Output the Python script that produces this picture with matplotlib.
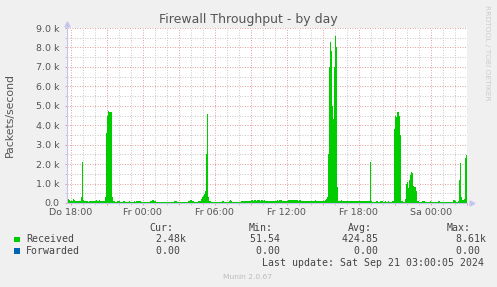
import numpy as np
import matplotlib.pyplot as plt
from matplotlib.patches import Rectangle
from matplotlib.ticker import MultipleLocator, FuncFormatter, FixedLocator

#%% data: 5-minute samples in k packets/s, last one = Sat 03:00
received_k = [
    0.19, 0.2, 0.17, 0.12, 0.1, 0.12, 0.2, 0.15, 0.1, 0.09, 0.08, 0.08, 0.09, 0.1, 0.3, 2.1, 0.15, 0.1, 0.09, 0.08,
    0.08, 0.07, 0.08, 0.08, 0.09, 0.08, 0.08, 0.1, 0.12, 0.13, 0.11, 0.12, 0.17, 0.12, 0.1, 0.1, 0.11, 0.12, 0.3, 3.6,
    4.5, 4.75, 4.7, 4.7, 4.7, 0.3, 0.1, 0.08, 0.07, 0.07, 0.08, 0.1, 0.08, 0.07, 0.07, 0.07, 0.08, 0.08, 0.07, 0.07,
    0.07, 0.07, 0.08, 0.07, 0.07, 0.07, 0.07, 0.08, 0.07, 0.08, 0.09, 0.12, 0.1, 0.08, 0.07, 0.07, 0.07, 0.07, 0.07, 0.07,
    0.07, 0.07, 0.07, 0.08, 0.1, 0.14, 0.15, 0.12, 0.08, 0.07, 0.06, 0.06, 0.07, 0.07, 0.06, 0.06, 0.07, 0.07, 0.06, 0.06,
    0.06, 0.06, 0.06, 0.07, 0.06, 0.06, 0.07, 0.08, 0.12, 0.08, 0.06, 0.06, 0.06, 0.06, 0.06, 0.06, 0.07, 0.06, 0.06, 0.06,
    0.07, 0.08, 0.12, 0.15, 0.13, 0.1, 0.08, 0.07, 0.07, 0.07, 0.07, 0.08, 0.1, 0.12, 0.2, 0.3, 0.35, 0.45, 0.6, 2.5,
    4.6, 0.3, 0.1, 0.08, 0.07, 0.07, 0.06, 0.06, 0.06, 0.06, 0.07, 0.06, 0.06, 0.07, 0.07, 0.1, 0.08, 0.06, 0.06, 0.06,
    0.06, 0.07, 0.1, 0.15, 0.1, 0.07, 0.06, 0.06, 0.06, 0.07, 0.07, 0.06, 0.06, 0.07, 0.08, 0.1, 0.12, 0.12, 0.11, 0.12,
    0.1, 0.09, 0.1, 0.12, 0.13, 0.15, 0.12, 0.14, 0.16, 0.12, 0.15, 0.17, 0.13, 0.12, 0.15, 0.14, 0.12, 0.13, 0.11, 0.12,
    0.12, 0.1, 0.1, 0.09, 0.1, 0.1, 0.11, 0.12, 0.1, 0.12, 0.13, 0.12, 0.13, 0.15, 0.14, 0.12, 0.11, 0.1, 0.1, 0.11,
    0.12, 0.15, 0.14, 0.16, 0.15, 0.14, 0.15, 0.13, 0.16, 0.15, 0.14, 0.12, 0.15, 0.13, 0.12, 0.11, 0.1, 0.1, 0.1, 0.11,
    0.1, 0.1, 0.1, 0.11, 0.1, 0.1, 0.1, 0.12, 0.14, 0.12, 0.1, 0.09, 0.1, 0.1, 0.1, 0.1, 0.12, 0.12, 0.15, 0.2,
    0.3, 2.5, 7.0, 8.3, 7.8, 5.0, 4.3, 7.0, 8.61, 8.0, 0.8, 0.1, 0.1, 0.12, 0.14, 0.1, 0.09, 0.08, 0.08, 0.08,
    0.08, 0.1, 0.12, 0.12, 0.1, 0.08, 0.08, 0.08, 0.09, 0.08, 0.1, 0.09, 0.08, 0.08, 0.08, 0.08, 0.09, 0.08, 0.08, 0.08,
    0.08, 0.08, 0.08, 2.1, 0.08, 0.07, 0.07, 0.07, 0.07, 0.1, 0.09, 0.07, 0.07, 0.08, 0.1, 0.08, 0.07, 0.07, 0.08, 0.07,
    0.07, 0.08, 0.07, 0.07, 0.07, 0.08, 0.1, 3.8, 4.5, 4.4, 4.66, 4.66, 4.5, 3.5, 0.1, 0.08, 0.07, 0.07, 0.2, 1.0,
    1.1, 0.75, 1.2, 1.45, 1.6, 1.55, 0.9, 0.8, 0.8, 0.6, 0.1, 0.08, 0.07, 0.07, 0.07, 0.09, 0.12, 0.08, 0.07, 0.06,
    0.06, 0.06, 0.07, 0.09, 0.07, 0.06, 0.06, 0.06, 0.0515, 0.06, 0.06, 0.08, 0.1, 0.07, 0.06, 0.06, 0.06, 0.07, 0.06, 0.06,
    0.06, 0.07, 0.06, 0.06, 0.06, 0.06, 0.15, 0.18, 0.12, 0.07, 0.06, 0.1, 1.2, 2.04, 0.3, 0.15, 0.15, 0.2, 2.3, 2.48,
]
forwarded_k = [0.0] * len(received_k)

tick_hours = [0, 6, 12, 18, 24, 30]   # hours after Do 18:00
tick_labels = ['Do 18:00', 'Fr 00:00', 'Fr 06:00', 'Fr 12:00', 'Fr 18:00', 'Sa 00:00']

series_names = ['Received', 'Forwarded']
series_colors = ['#00cc00', '#0066b3']
cur_vals = [2480.0, 0.0]
min_vals = [51.54, 0.0]
avg_vals = [424.85, 0.0]
max_vals = [8610.0, 0.0]

#%% layout helpers (pixel -> figure fraction)
W, H = 497, 287
def fx(x): return x / W
def fy(y): return 1 - y / H

TXT = '#555555'
MONO = 'DejaVu Sans Mono'

fig = plt.figure(figsize=(W / 100, H / 100), dpi=100, facecolor='#f0f0f0')
ax = fig.add_axes([fx(66.7), fy(203), 400 / W, 175 / H])
ax.set_facecolor('white')

n = len(received_k)
edges = 33.0 - (n - np.arange(n + 1)) / 12.0
rec = np.array(received_k)
fwd = np.array(forwarded_k)
ax.stairs(rec, edges, fill=True, color=series_colors[0], lw=0, zorder=2)
ax.stairs(rec + fwd, edges, baseline=rec, fill=True, color=series_colors[1], lw=0, zorder=2)

ax.set_xlim(edges[0], edges[-1])
ax.set_ylim(0, 9)

# grid like rrdtool: red major, grey minor, dotted
ax.xaxis.set_major_locator(FixedLocator(np.arange(0, 34, 3)))
ax.xaxis.set_minor_locator(MultipleLocator(1))
lab = dict(zip(tick_hours, tick_labels))
ax.xaxis.set_major_formatter(FuncFormatter(lambda v, p: lab.get(int(round(v)), '')))
ax.yaxis.set_major_locator(MultipleLocator(1))
ax.yaxis.set_minor_locator(MultipleLocator(0.5))
ax.yaxis.set_major_formatter(FuncFormatter(lambda v, p: '%.1f k' % v if v > 0 else '0.0'))

MAJ, MIN = '#e2a4a4', '#cbcbcb'
ax.grid(which='major', color=MAJ, linestyle=(0, (1, 1.5)), linewidth=0.72, zorder=1)
ax.grid(which='minor', color=MIN, linestyle=(0, (1, 1.5)), linewidth=0.72, zorder=1)
ax.set_axisbelow(True)

ax.tick_params(which='major', length=1.5, width=0.72, color=MAJ, labelsize=6.8, labelcolor=TXT)
ax.tick_params(which='minor', length=1.5, width=0.72, color=MIN)
ax.tick_params(axis='y', which='major', pad=3.8)
ax.tick_params(axis='x', which='major', pad=2.0)

for s in ['top', 'right']:
    ax.spines[s].set_visible(False)
for s in ['left', 'bottom']:
    ax.spines[s].set_color('#c4c4ee')
    ax.spines[s].set_linewidth(0.8)
ax.plot([0], [1.025], marker='^', ms=3.5, color='#c4c4ee', transform=ax.transAxes, clip_on=False)
ax.plot([1.012], [0], marker='>', ms=3.5, color='#c4c4ee', transform=ax.transAxes, clip_on=False)

#%% texts
fig.text(fx(248.3), fy(19.5), 'Firewall Throughput - by day', ha='center', va='center', fontsize=9, color=TXT)
fig.text(fx(10), fy(115), 'Packets/second', rotation=90, ha='center', va='center', fontsize=7.8, color=TXT)
fig.text(fx(487.3), fy(53), 'RRDTOOL / TOBI OETIKER', rotation=-90, ha='center', va='center', fontsize=5.4, color='#cccccc')

# legend block
LEG = '#444444'
for hdr, x in zip(['Cur:', 'Min:', 'Avg:', 'Max:'], [149, 249, 348, 447]):
    fig.text(fx(x), fy(228.3), hdr, ha='left', va='center', fontsize=7.15, family=MONO, color=LEG)

def fmt(v):
    if v >= 1000:
        return '%6.2fk' % (v / 1000)
    return '%6.2f ' % v

rows_y = [239.3, 251.0]
for i, name in enumerate(series_names):
    y = rows_y[i]
    fig.patches.append(Rectangle((fx(14), fy(y + 2.8)), 5.5 / W, 5.5 / H, transform=fig.transFigure,
                                 facecolor=series_colors[i], edgecolor='none'))
    fig.text(fx(26), fy(y), name, ha='left', va='center', fontsize=7.15, family=MONO, color=LEG)
    for vals, x in zip([cur_vals, min_vals, avg_vals, max_vals], [143.8, 244.0, 342.0, 443.5]):
        fig.text(fx(x), fy(y), fmt(vals[i]), ha='left', va='center', fontsize=7.15, family=MONO, color=LEG)

fig.text(fx(261.7), fy(263.3), 'Last update: Sat Sep 21 03:00:05 2024', ha='left', va='center',
         fontsize=7.15, family=MONO, color=LEG)
fig.text(fx(247.5), fy(276.7), 'Munin 2.0.67', ha='center', va='center', fontsize=5.4, color='#bbbbbb')

fig.savefig('out.png', dpi=100, facecolor=fig.get_facecolor())
